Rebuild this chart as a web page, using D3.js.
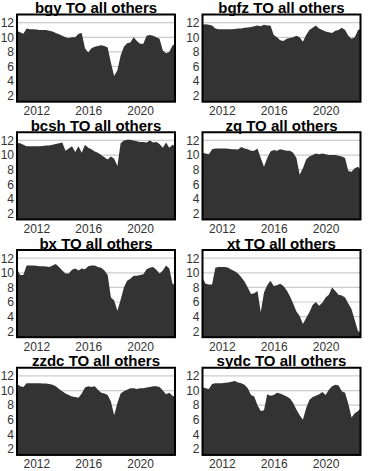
<!DOCTYPE html>
<html>
<head>
<script src="https://cdn.jsdelivr.net/npm/d3@7/dist/d3.min.js"></script>
<style>
body { margin: 0; background: #fff; }
svg text { font-family: "Liberation Sans", Arial, sans-serif; }
.title { font-size: 15px; font-weight: bold; text-anchor: middle; fill: #000; }
.tick text { font-size: 12px; fill: #333; }
.axis path { display: none; }
</style>
</head>
<body>
<svg id="chart" width="371" height="471"></svg>
<script>
// quarterly time points (decimal years)
var years = [2010.5, 2010.75, 2011, 2011.25, 2011.5, 2011.75, 2012, 2012.25, 2012.5, 2012.75,
             2013, 2013.25, 2013.5, 2013.75, 2014, 2014.25, 2014.5, 2014.75, 2015, 2015.25,
             2015.5, 2015.75, 2016, 2016.25, 2016.5, 2016.75, 2017, 2017.25, 2017.5, 2017.75,
             2018, 2018.25, 2018.5, 2018.75, 2019, 2019.25, 2019.5, 2019.75, 2020, 2020.25,
             2020.5, 2020.75, 2021, 2021.25, 2021.5, 2021.75, 2022, 2022.25, 2022.5, 2022.75];

var bgy  = [10.9, 10.7, 10.5, 11.2, 11.1, 11.1, 11.05, 11.0, 11.0, 11.0,
            10.9, 10.8, 10.6, 10.4, 10.2, 10.0, 9.9, 10.0, 10.0, 10.5,
            10.6, 8.5, 7.9, 8.5, 8.7, 8.8, 8.9, 8.8, 8.6, 6.5,
            4.7, 5.5, 7.5, 8.7, 9.2, 9.3, 10.0, 9.5, 9.1, 9.1,
            10.2, 10.3, 10.2, 10.0, 9.8, 8.2, 7.8, 8.0, 8.9, 9.1];
var bgfz = [11.7, 11.8, 11.7, 11.6, 11.2, 11.1, 11.1, 11.1, 11.1, 11.1,
            11.15, 11.2, 11.2, 11.3, 11.35, 11.4, 11.5, 11.6, 11.5, 11.7,
            11.6, 11.6, 10.3, 10.0, 9.6, 9.5, 9.8, 9.9, 10.0, 10.2,
            10.0, 9.4, 10.3, 11.0, 11.3, 11.6, 11.2, 11.0, 10.8, 10.7,
            10.6, 10.9, 11.0, 11.3, 11.0, 10.2, 9.8, 10.0, 11.0, 11.2];
var bcsh = [11.7, 11.6, 11.4, 11.2, 11.2, 11.2, 11.2, 11.2, 11.25, 11.3,
            11.3, 11.4, 11.5, 11.6, 11.7, 10.6, 10.9, 11.2, 10.4, 11.2,
            10.3, 11.4, 11.0, 10.8, 10.5, 10.3, 10.0, 9.7, 9.4, 9.8,
            9.5, 8.5, 11.6, 12.0, 12.1, 12.1, 12.0, 11.9, 11.8, 11.8,
            11.7, 12.0, 11.7, 11.8, 11.5, 11.0, 11.7, 11.0, 11.4, 11.2];
var zq   = [10.3, 10.2, 10.1, 10.8, 10.9, 10.9, 10.9, 10.9, 10.85, 10.8,
            10.8, 10.75, 11.1, 10.9, 10.8, 10.6, 10.6, 10.9, 9.6, 8.4,
            9.6, 10.5, 10.7, 10.6, 10.8, 10.7, 10.6, 10.6, 10.3, 9.6,
            7.3, 8.2, 9.4, 9.8, 10.0, 10.2, 10.1, 10.2, 10.1, 10.0,
            10.0, 10.0, 9.9, 9.8, 9.6, 7.8, 7.7, 8.2, 8.4, 7.9];
var bx   = [10.6, 9.7, 9.7, 11.0, 11.0, 11.0, 10.95, 10.9, 10.9, 10.85,
            10.8, 11.0, 11.2, 10.8, 10.3, 9.9, 9.9, 10.4, 10.6, 10.3,
            10.6, 10.5, 10.9, 11.0, 11.0, 10.8, 10.7, 10.3, 9.7, 6.6,
            6.2, 4.8, 6.3, 8.0, 8.9, 9.2, 9.6, 9.6, 9.7, 9.8,
            10.5, 10.7, 10.8, 10.4, 9.9, 10.3, 11.0, 10.6, 8.5, 8.3];
var xt   = [9.3, 8.5, 8.4, 8.4, 10.7, 10.8, 10.8, 10.8, 10.7, 10.4,
            10.2, 9.9, 9.4, 8.8, 8.0, 7.1, 7.2, 7.5, 4.6, 7.3,
            8.3, 8.9, 8.2, 8.3, 8.5, 8.2, 7.6, 6.8, 5.8, 4.7,
            4.1, 3.0, 3.8, 4.6, 5.6, 6.0, 5.5, 5.9, 6.6, 7.0,
            8.0, 7.5, 7.0, 6.9, 6.6, 5.8, 5.0, 3.5, 2.0, 1.7];
var zzdc = [10.9, 10.6, 10.5, 11.0, 11.0, 11.0, 11.0, 11.0, 10.95, 10.95,
            10.9, 10.8, 10.6, 10.2, 9.9, 9.6, 9.4, 9.2, 9.1, 9.0,
            9.6, 10.4, 10.6, 10.5, 10.6, 10.1, 9.7, 9.6, 9.4, 8.5,
            6.6, 8.3, 9.6, 9.9, 10.1, 10.3, 10.3, 10.2, 10.3, 10.3,
            10.4, 10.5, 10.6, 10.6, 10.5, 10.0, 9.5, 9.7, 9.3, 9.1];
var sydc = [10.5, 10.3, 10.2, 10.9, 11.0, 11.0, 11.0, 11.05, 11.1, 11.2,
            11.3, 11.1, 11.0, 10.8, 10.3, 9.4, 9.2, 8.0, 7.2, 7.3,
            9.5, 9.3, 9.4, 9.7, 9.6, 9.4, 9.2, 8.9, 8.3, 7.4,
            6.6, 6.0, 7.6, 8.7, 9.1, 9.3, 9.5, 9.8, 9.4, 10.1,
            10.6, 10.8, 10.7, 9.9, 9.7, 8.2, 6.3, 6.9, 7.2, 7.6];

var names  = ["bgy", "bgfz", "bcsh", "zq", "bx", "xt", "zzdc", "sydc"];
var series = [bgy, bgfz, bcsh, zq, bx, xt, zzdc, sydc];
var yTicks = [2, 4, 6, 8, 10, 12];
var xTicks = [2012, 2016, 2020];

var svg = d3.select("#chart");
var panelW = 158, panelH = 87.2;
var colX = [17, 202.5], rowH = 117.75, topPad = 14.5;

var x = d3.scaleLinear().domain([2010.51, 2022.69]).range([0, panelW]);
var y = d3.scaleLinear().domain([1.18, 13.12]).range([panelH, 0]);

var area = d3.area()
    .x(function(d){ return x(d[0]); })
    .y0(panelH)
    .y1(function(d){ return y(d[1]); });

names.forEach(function(name, i){
    var col = i % 2, row = Math.floor(i / 2);
    var g = svg.append("g")
        .attr("transform", "translate(" + colX[col] + "," + (row * rowH + topPad) + ")");

    g.append("clipPath").attr("id", "clip" + i)
        .append("rect").attr("width", panelW).attr("height", panelH);

    var inner = g.append("g").attr("clip-path", "url(#clip" + i + ")");

    inner.selectAll("line").data(yTicks).enter().append("line")
        .attr("x1", 0).attr("x2", panelW)
        .attr("y1", function(d){ return y(d); })
        .attr("y2", function(d){ return y(d); })
        .attr("stroke", "#cccccc").attr("stroke-width", 1.2);

    var pts = years.map(function(t, j){ return [t, series[i][j]]; });
    inner.append("path").datum(pts)
        .attr("d", area)
        .attr("fill", "#333333");

    g.append("rect")
        .attr("width", panelW).attr("height", panelH)
        .attr("fill", "none").attr("stroke", "#000").attr("stroke-width", 2);

    g.append("text").attr("class", "title")
        .attr("x", panelW / 2).attr("y", -1.5)
        .text(name + " TO all others");

    g.append("g").attr("class", "axis")
        .call(d3.axisLeft(y).tickValues(yTicks).tickSize(0).tickPadding(3));

    g.append("g").attr("class", "axis")
        .attr("transform", "translate(0," + panelH + ")")
        .call(d3.axisBottom(x).tickValues(xTicks).tickFormat(d3.format("d")).tickSize(0).tickPadding(5));
});
</script>
</body>
</html>
